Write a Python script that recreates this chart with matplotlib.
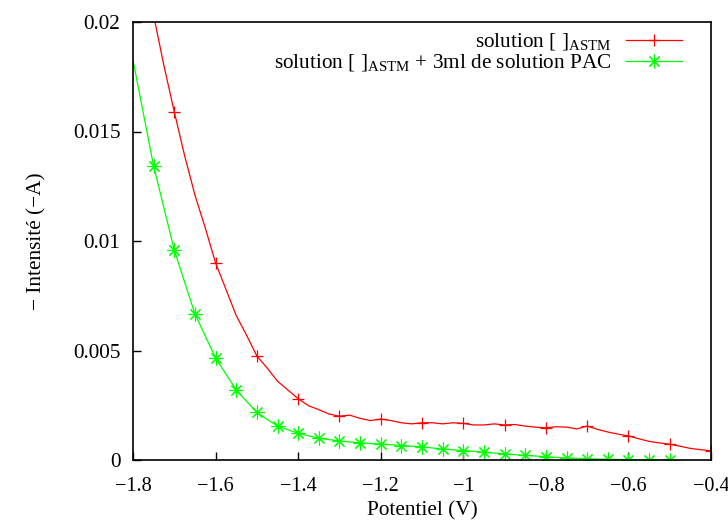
import numpy as np
import matplotlib.pyplot as plt
from matplotlib.ticker import FuncFormatter

# red curve: solution [ ]ASTM, sampled every 0.025 V
red_x = np.round(np.arange(-1.8, -0.4 + 0.001, 0.025), 3)
red_y = [0.0248, 0.0222, 0.0203, 0.0180, 0.0159, 0.0139, 0.0121, 0.0106,
         0.0090, 0.0078, 0.0066, 0.0057, 0.00475, 0.0042, 0.0036, 0.0032,
         0.0028, 0.00248, 0.0023, 0.0021, 0.0020, 0.00205, 0.0019, 0.0018,
         0.00187, 0.0018, 0.0017, 0.00165, 0.0017, 0.0017, 0.00165, 0.0017,
         0.00167, 0.0016, 0.0016, 0.00165, 0.0016, 0.00162, 0.00155, 0.0015,
         0.00147, 0.00152, 0.0015, 0.00142, 0.00155, 0.0014, 0.00128, 0.00118,
         0.0011, 0.00097, 0.00085, 0.00078, 0.00072, 0.00063, 0.00053, 0.00047,
         0.00042]

# green curve: + 3ml de solution PAC, every 0.05 V
green_x = np.round(np.arange(-1.8, -0.5 + 0.001, 0.05), 3)
green_y = [0.01826, 0.01342, 0.00959, 0.00667, 0.00466, 0.0032, 0.00217,
           0.00155, 0.00122, 0.00099, 0.00087, 0.00078, 0.00073, 0.00066,
           0.00060, 0.00050, 0.00043, 0.00036, 0.00028, 0.00021, 0.00015,
           0.00009, 0.00006, 0.00003, 0.00002, 0.00001, 0.0]

plt.rcParams['font.family'] = ['Liberation Serif', 'DejaVu Serif']
plt.rcParams['mathtext.fontset'] = 'custom'
plt.rcParams['mathtext.rm'] = 'Liberation Serif'
plt.rcParams['font.size'] = 15.3

fig = plt.figure(figsize=(7.28, 5.22), dpi=100)
ax = fig.add_axes([133/728, 1 - 460/522, (711 - 133)/728, (460 - 22)/522])

ax.plot(red_x, red_y, color='#ff0000', lw=0.9, marker='+', ms=9, mew=0.9,
        markevery=(4, 4), label=r'solution [ ]$_{\mathrm{ASTM}}$')
ax.plot(green_x, green_y, color='#00ff00', lw=0.9, marker=(8, 2, 0), ms=10, mew=0.8,
        markevery=(1, 1), label=r'solution [ ]$_{\mathrm{ASTM}}$ + 3ml de solution PAC')

ax.set_xlim(-1.8, -0.4)
ax.set_ylim(0, 0.02)
ax.set_xticks(np.arange(-1.8, -0.39, 0.2))
ax.set_yticks([0, 0.005, 0.01, 0.015, 0.02])
fmt = FuncFormatter(lambda v, p: ('%g' % round(v, 4)).replace('-', '\u2212'))
ax.xaxis.set_major_formatter(fmt)
ax.yaxis.set_major_formatter(fmt)
ax.tick_params(direction='in', length=6, width=1, top=False, right=False)
ax.tick_params(axis='x', pad=12, labelsize=14.6)
ax.tick_params(axis='y', pad=9)
for s in ax.spines.values():
    s.set_linewidth(1.2)

ax.set_xlabel('Potentiel (V)', labelpad=4)
ax.set_ylabel('\u2212 Intensit\u00e9 (\u2212A)', labelpad=19)

ax.legend(loc='upper right', frameon=False, markerfirst=False, handlelength=2.6,
          handletextpad=0.7, labelspacing=0.0, borderaxespad=0.0,
          bbox_to_anchor=(1 - 21/578, 1 - 1/438))

fig.savefig('out.png', dpi=100)
